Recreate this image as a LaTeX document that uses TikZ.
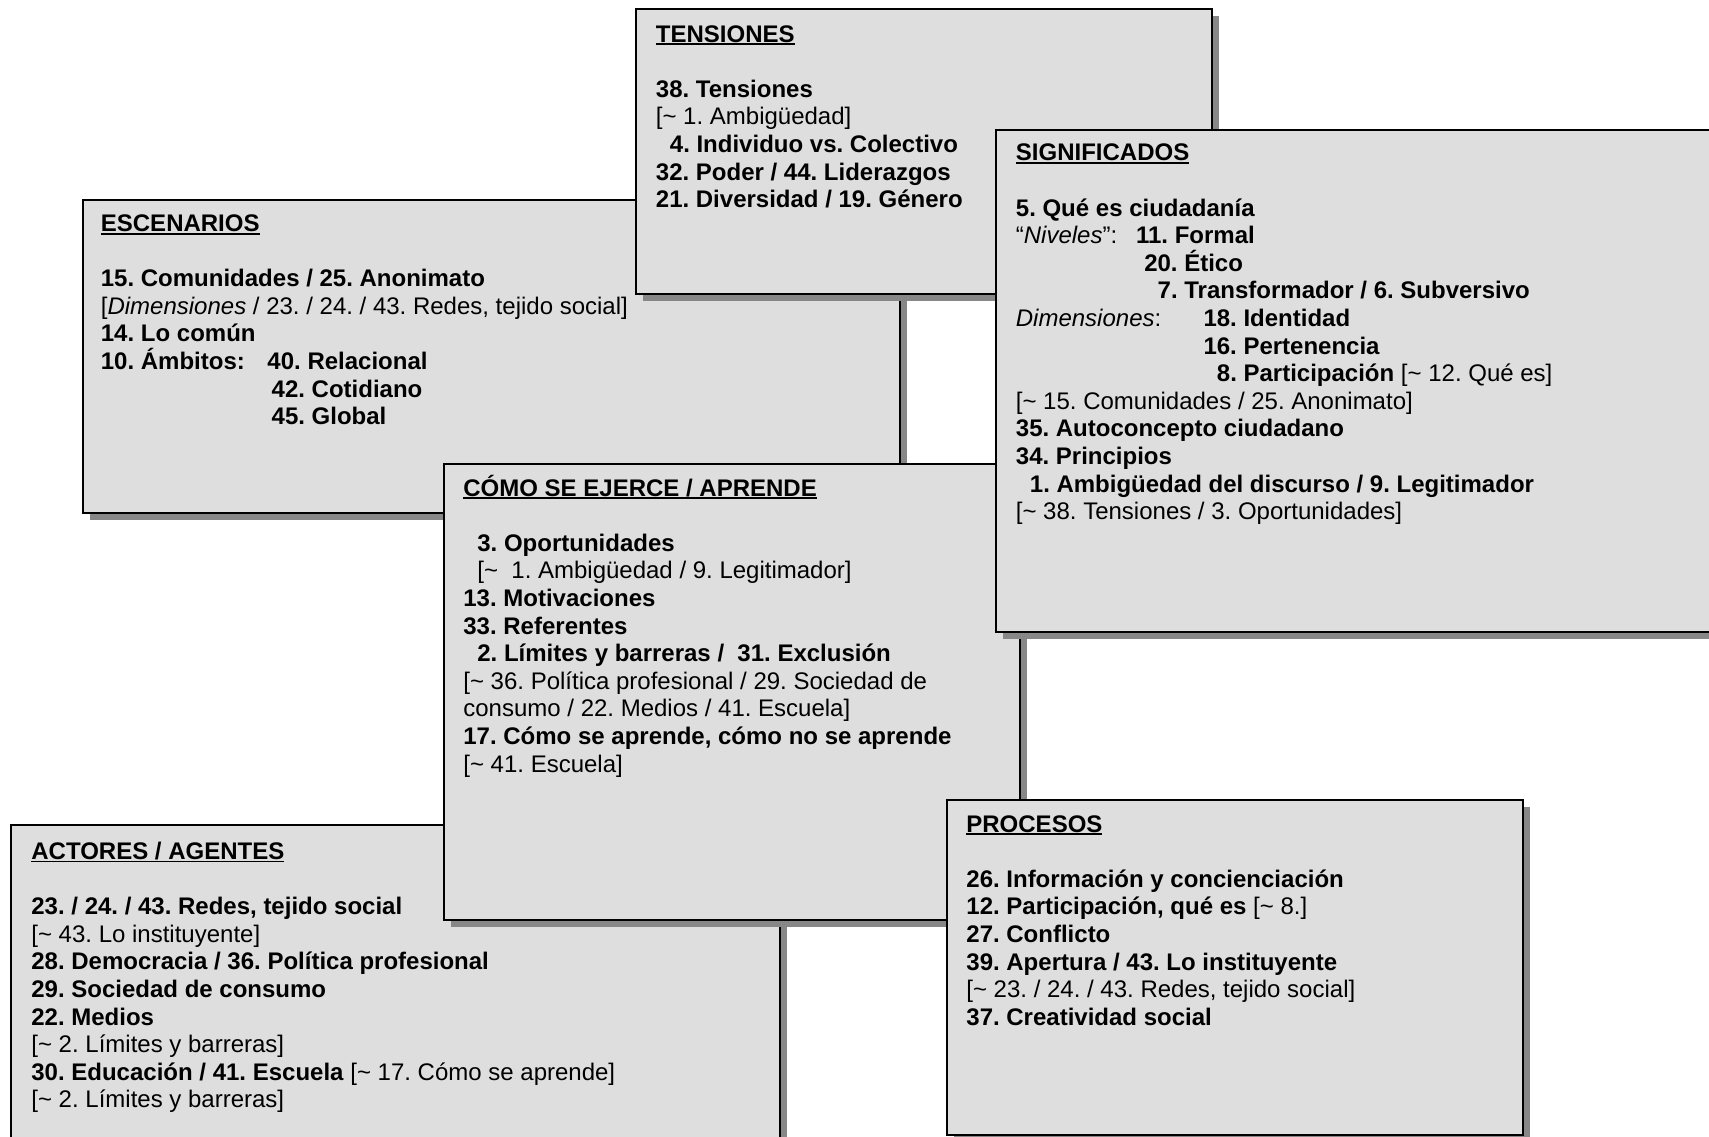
\documentclass[tikz,border=0pt]{standalone}
\usepackage{fontspec}
\setmainfont{Liberation Sans}
\usetikzlibrary{shadows}
\definecolor{pfill}{gray}{0.87}
\definecolor{pshadow}{gray}{0.53}
\newcommand{\tld}{\textasciitilde}
\newcommand{\pad}{\hspace*{7pt}}
\newcommand{\hd}[1]{\textbf{\setbox0=\hbox{#1}\rlap{\rule[-1.5pt]{\wd0}{0.9pt}}\box0}}
\frenchspacing
\tikzset{panel/.style = {draw, line width=1pt, fill=pfill, anchor=north west,
                         inner sep=0pt, outer sep=0pt,
                         drop shadow={shadow xshift=3.5pt, shadow yshift=-3.5pt,
                                      fill=pshadow, opacity=1}},
         entry/.style = {anchor=base west, inner sep=0pt,
                         font=\fontsize{12pt}{13.8pt}\selectfont\frenchspacing}}

\begin{document}
\begin{tikzpicture}[x=0.5pt, y=-0.5pt]
    \fill [white] (0, 0) rectangle (1709, 1136);
    \useasboundingbox (0, 0) rectangle (1709, 1136);
    \clip (0, 0) rectangle (1709, 1136);

    % actores / agentes
    \node [panel, minimum width=384.5pt, minimum height=170pt] (act) at (11, 825) {};
    \node [entry] (act-t) at ([shift={(10pt, -17.2pt)}]act.north west) {\hd{ACTORES / AGENTES}};
    \foreach \itm [count=\i from 2] in {{\textbf{23. / 24. / 43. Redes, tejido social}},
                                        {[\tld\ 43. Lo instituyente]},
                                        {\textbf{28. Democracia / 36. Política profesional}},
                                        {\textbf{29. Sociedad de consumo}},
                                        {\textbf{22. Medios}},
                                        {[\tld\ 2. Límites y barreras]},
                                        {\textbf{30. Educación / 41. Escuela} [\tld\ 17. Cómo se aprende]},
                                        {[\tld\ 2. Límites y barreras]}}
        \node [entry] (act-\i) at ([shift={(10pt, -17.2pt-\i*13.8pt)}]act.north west) {\itm};

    % escenarios
    \node [panel, minimum width=408.75pt, minimum height=156.5pt] (esc) at (82.5, 199.5) {};
    \node [entry] (esc-t) at ([shift={(9pt, -16pt)}]esc.north west) {\hd{ESCENARIOS}};
    \foreach \itm [count=\i from 2] in {{\textbf{15. Comunidades / 25. Anonimato}},
                                        {[\textit{Dimensiones} / 23. / 24. / 43. Redes, tejido social]},
                                        {\textbf{14. Lo común}},
                                        {\textbf{\makebox[83.3pt][l]{10. Ámbitos:}40. Relacional}},
                                        {\textbf{\hspace*{85.4pt}42. Cotidiano}},
                                        {\textbf{\hspace*{85.4pt}45. Global}}}
        \node [entry] (esc-\i) at ([shift={(9pt, -16pt-\i*13.8pt)}]esc.north west) {\itm};

    % tensiones
    \node [panel, minimum width=288pt, minimum height=142.75pt] (tens) at (636, 8.5) {};
    \node [entry] (tens-t) at ([shift={(9.75pt, -16.75pt)}]tens.north west) {\hd{TENSIONES}};
    \foreach \itm [count=\i from 2] in {{\textbf{38. Tensiones}},
                                        {[\tld\ 1. Ambigüedad]},
                                        {\textbf{\pad 4. Individuo vs. Colectivo}},
                                        {\textbf{32. Poder / 44. Liderazgos}},
                                        {\textbf{21. Diversidad / 19. Género}}}
        \node [entry] (tens-\i) at ([shift={(9.75pt, -16.75pt-\i*13.8pt)}]tens.north west) {\itm};

    % como se ejerce / aprende
    \node [panel, minimum width=288pt, minimum height=228pt] (como) at (443.5, 464) {};
    \node [entry] (como-t) at ([shift={(9.75pt, -16pt)}]como.north west) {\hd{CÓMO SE EJERCE / APRENDE}};
    \foreach \itm [count=\i from 2] in {{\textbf{\pad 3. Oportunidades}},
                                        {\pad[\tld\ \ 1. Ambigüedad / 9. Legitimador]},
                                        {\textbf{13. Motivaciones}},
                                        {\textbf{33. Referentes}},
                                        {\textbf{\pad 2. Límites y barreras / \ 31. Exclusión}},
                                        {[\tld\ 36. Política profesional / 29. Sociedad de},
                                        {consumo / 22. Medios / 41. Escuela]},
                                        {\textbf{17. Cómo se aprende, cómo no se aprende}},
                                        {[\tld\ 41. Escuela]}}
        \node [entry] (como-\i) at ([shift={(9.75pt, -16pt-\i*13.8pt)}]como.north west) {\itm};

    % significados
    \node [panel, minimum width=362pt, minimum height=251pt] (sig) at (996, 129.5) {};
    \node [entry] (sig-t) at ([shift={(9.75pt, -15.7pt)}]sig.north west) {\hd{SIGNIFICADOS}};
    \foreach \itm [count=\i from 2] in {{\textbf{5. Qué es ciudadanía}},
                                        {\makebox[60.1pt][l]{“\textit{Niveles}”:}\textbf{11. Formal}},
                                        {\hspace*{64.2pt}\textbf{20. Ético}},
                                        {\hspace*{70.9pt}\textbf{7. Transformador / 6. Subversivo}},
                                        {\makebox[93.8pt][l]{\textit{Dimensiones}:}\textbf{18. Identidad}},
                                        {\hspace*{93.8pt}\textbf{16. Pertenencia}},
                                        {\hspace*{100.5pt}\textbf{8. Participación} [\tld\ 12. Qué es]},
                                        {[\tld\ 15. Comunidades / 25. Anonimato]},
                                        {\textbf{35. Autoconcepto ciudadano}},
                                        {\textbf{34. Principios}},
                                        {\textbf{\pad 1. Ambigüedad del discurso / 9. Legitimador}},
                                        {[\tld\ 38. Tensiones / 3. Oportunidades]}}
        \node [entry] (sig-\i) at ([shift={(9.75pt, -15.7pt-\i*13.8pt)}]sig.north west) {\itm};

    % procesos
    \node [panel, minimum width=288pt, minimum height=167.5pt] (proc) at (947, 800) {};
    \node [entry] (proc-t) at ([shift={(9.5pt, -16pt)}]proc.north west) {\hd{PROCESOS}};
    \foreach \itm [count=\i from 2] in {{\textbf{26. Información y concienciación}},
                                        {\textbf{12. Participación, qué es} [\tld\ 8.]},
                                        {\textbf{27. Conflicto}},
                                        {\textbf{39. Apertura / 43. Lo instituyente}},
                                        {[\tld\ 23. / 24. / 43. Redes, tejido social]},
                                        {\textbf{37. Creatividad social}}}
        \node [entry] (proc-\i) at ([shift={(9.5pt, -16pt-\i*13.8pt)}]proc.north west) {\itm};
\end{tikzpicture}
\end{document}
